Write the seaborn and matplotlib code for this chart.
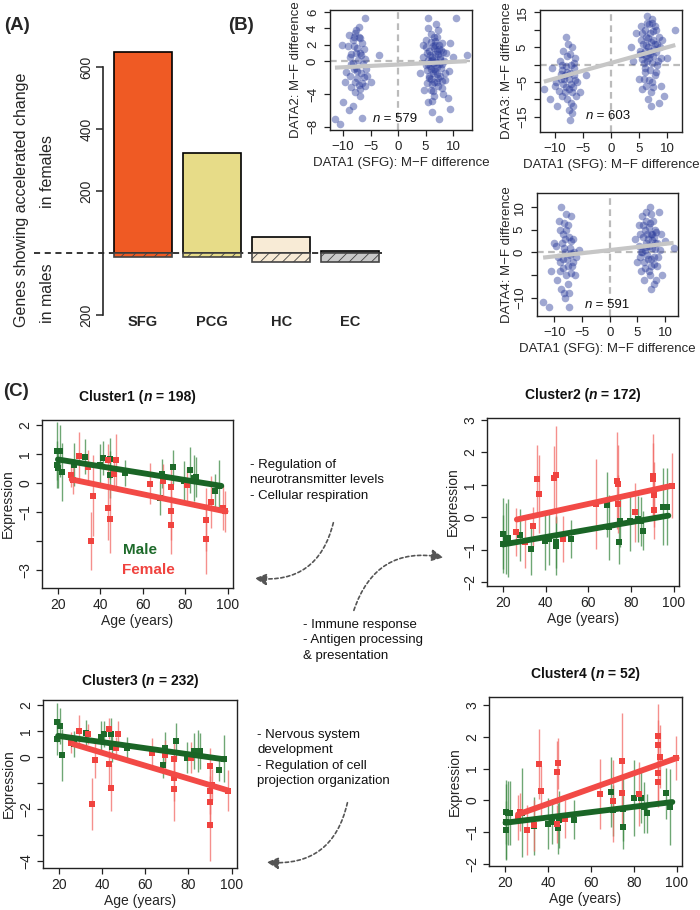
import matplotlib
matplotlib.use("Agg")
import matplotlib.pyplot as plt
import numpy as np
import seaborn as sns
from matplotlib.offsetbox import TextArea, HPacker, AnnotationBbox
from matplotlib.patches import FancyArrowPatch

# ---- panel A: genes with accelerated change ----
regions = ["SFG", "PCG", "HC", "EC"]
female_genes = [648, 322, 52, 5]
male_genes = [13, 12, 29, 30]
region_colors = ["#EF5A24", "#E7DC88", "#F8EBD6", "#C9C9C9"]

# ---- panel B: M-F differences ----
s1_points = [(-11.5, -7), (-10.5, -7.7), (-10, -5), (-9.6, -2.5), (-9.2, 1.8), (-9, -6), (-8.8, 0.5),
             (-8.5, -3.2), (-8.3, 2.6), (-8, -1), (-7.8, 3.5), (-7.6, 1), (-7.5, -2.1), (-7.3, 0.2),
             (-7.1, 4.2), (-7, -4.2), (-6.8, -1.5), (-6.6, 2.2), (-6.4, -0.4), (-6.2, 1.5), (-6, -3),
             (-5.7, -1.8), (-6, 5.3), (-5, -2.6), (-8.2, -5.5), (-7.7, -0.8), (-7.2, 3), (-6.9, -3.4),
             (-9.4, -1.3), (-8.6, 0.9), (-3.5, 0.8), (-6.5, -6.9), (-7.4, -1.2), (-8.1, 1.9), (-6.7, 0.7),
             (-7.9, -2.6), (-7.0, 2.8), (-8.6, -0.4), (-6.3, -1.9), (-7.6, 3.8),
             (-8.8, -1.8), (-7.2, -2.9), (-6.1, 0.3), (-8.0, 2.9), (-7.4, 1.6), (-9.0, 3.2), (-6.6, -2.7),
             (-7.8, -3.8), (-8.3, -0.2), (-6.9, 1.0), (-10.2, 2.0), (-5.8, -0.9),
             (4, -1.5), (4.5, 2), (4.8, -3.5), (5, -0.5), (5.2, 1), (5.4, 4), (5.5, -5), (5.6, -2),
             (5.8, 0.8), (6, 3.3), (6, -1), (6.2, -2.8), (6.3, 1.8), (6.4, -0.2), (5.5, 5.3), (6.6, -4.2),
             (6.7, 2.5), (6.8, 0), (7, -1.6), (7, 1.2), (7.2, 3.8), (7.3, -3), (7.5, -7), (7.6, 0.5),
             (7.8, -0.8), (8, 2.2), (8.2, -4), (8.5, -2.3), (8.8, 1), (9, -4.5), (9.3, -1.2), (10, 0.5),
             (10.5, 5.3), (12.5, 0.8), (5.9, -3.5), (6.9, 4.5), (7.4, -0.4), (6.1, 0.2), (5.3, -1.1),
             (7.9, -2.4), (6.2, 0.5), (6.8, -1.2), (7.2, 0.9), (5.8, -0.6), (6.5, 1.6), (7.6, -1.8),
             (6.0, 2.4), (7.0, -2.6), (6.4, -3.6), (5.5, 0.2), (7.8, 1.4), (6.6, 3), (6.9, -0.1),
             (5.6, -1.8), (8.3, 0), (6.1, -6.2), (9.5, -5.8),
             (5.1, 2.6), (5.7, 1.3), (6.3, -1.4), (6.7, 0.9), (7.1, -0.7), (7.5, 2.0), (5.9, -2.2),
             (6.5, -0.9), (7.3, -2.0), (8.1, 1.1), (6.0, 0.0), (5.4, -0.3), (7.7, 0.3), (6.8, 2.0),
             (5.2, -2.7), (8.6, -1.5), (7.0, 3.0), (6.2, -4.8), (7.9, -3.3), (5.0, 1.7), (6.6, -2.5),
             (7.4, 1.5), (8.0, -0.3), (4.6, 0.5), (9.5, 2.2)]
s2_points = [(-12, -7), (-11, -10), (-10.5, -1), (-10, -6), (-9.6, -12), (-9.2, 1), (-9, -4), (-8.8, -9),
             (-8.5, 4), (-8.3, -3), (-8, 8), (-7.8, -2), (-7.6, -7), (-7.4, -16), (-7.2, 0), (-7, 5),
             (-6.8, -12), (-6.6, -3), (-6.4, 2), (-6.2, -9), (-6, -5), (-5.5, -8), (-4.5, -3), (-8.1, -0.5),
             (-7.5, -13), (-7.1, -5.5), (-8.7, -1.5), (-6.9, -14), (-7.7, 6), (-8.4, -4), (-7.3, -2.5),
             (-8.0, -6.5), (-6.7, 0.5), (-7.9, 2.5), (-7.0, -8), (-8.9, -2.8), (-6.5, -4.5), (-9.9, -5),
             (-8.2, -8), (-7.6, -4), (-6.8, -6.5), (-7.9, -10), (-8.6, -5.5), (-7.2, -11), (-6.6, -1),
             (-9.3, -7.5), (-7.4, 3), (-8.8, 0),
             (3.5, 5), (4, 1), (4.5, 9), (5, -4), (5.2, 3), (5.4, 11), (5.6, -7), (5.8, 6), (6, -1),
             (6.2, 8), (6.4, 12), (6.6, -10), (6.8, 2), (7, 4), (7.2, -12), (7.4, 13), (7.6, 7), (7.8, -3),
             (8, 10), (8.2, 0), (8.5, -11), (8.8, 5), (9, -6), (9.5, -9), (10, 2), (11.5, 10), (6.1, -2),
             (6.9, 9), (7.3, -5), (7.9, 6), (5.7, 3), (8.4, 1), (6.5, 14), (7.1, -8), (7.7, 4.5), (6.3, 5.5),
             (7.5, 2.5), (6.7, 7.5), (8.1, 3.5), (5.9, 0.5), (7.2, 6.5), (6.0, 4), (8.6, 8), (5.5, 1.5),
             (6.8, -4.5), (7.4, 0.5),
             (5.3, 7), (6.1, 10), (6.9, 3), (7.5, 9.5), (5.9, -4), (6.4, 1), (7.8, 11), (8.2, 6),
             (7.0, -1.5), (6.6, 5), (5.6, 9), (8.9, 2), (7.3, 12), (6.2, -6), (8.0, -2), (5.1, 4),
             (7.6, -6.5), (6.8, 11.5), (9.2, 7), (6.3, 2.5)]
s3_points = [(-12, -11), (-11, -12), (-10.5, -4), (-10, 2), (-9.5, -6), (-9.2, 7), (-9, -2), (-8.8, 10),
             (-8.5, 4), (-8.3, -9), (-8, 0), (-7.8, 5), (-7.6, -7), (-7.4, -12), (-7.2, 1), (-7, 8),
             (-6.8, -3), (-6.6, 3), (-6.3, -5), (-6, -1), (-5.5, 0.5), (-8.1, -10), (-7.5, 6), (-8.7, -8),
             (-7.1, -0.5), (-9.7, 1.5), (-6.9, 2.5), (-8.4, -3.5), (-7.7, -1.5), (-8.2, 1), (-7.3, 3.5),
             (-6.7, -2), (-7.9, -5), (-8.6, 2), (-7.0, -0.2), (-9.3, -1),
             (-8.9, 5), (-7.6, -3), (-8.2, 6.5), (-7.0, -4.5), (-8.5, -1.5), (-7.4, -9), (-9.0, -4),
             (-6.5, 0), (-8.0, 3), (-7.8, 8.5),
             (4.5, 3), (5, -2), (5.3, 6), (5.6, 0), (5.9, 8), (6.2, -6), (6.5, 2), (6.8, 4), (7, -4),
             (7.2, 10), (7.4, -8), (7.6, 1), (7.8, 7), (8, -1), (8.2, 5), (8.5, -3), (8.8, 9), (9, 0.5),
             (9.5, -5), (10, 2.5), (11.5, 1), (6, 3.5), (6.7, -0.5), (7.3, 6.5), (7.9, -2.5), (8.3, 4.5),
             (6.4, -3.5), (7.1, 1.5), (5.8, 0), (8.6, 2), (6.9, 3), (7.5, -1.5), (6.3, 5), (7.7, 2.8),
             (8.1, 0.8), (6.6, 1.2), (7.4, 4), (5.5, -1),
             (5.5, 4), (6.1, -2), (6.6, 7), (7.2, -5), (7.7, 4), (8.4, -6), (6.9, -1.5), (7.5, 8.5),
             (6.3, 0.5), (8.0, 3.5), (5.7, -4), (7.0, 5.5), (8.7, -1), (6.5, 9), (7.9, -7), (6.0, 6),
             (7.4, -3), (8.2, 2), (5.2, 1.5), (9.2, 4)]
s1_fit = (0.033, -0.41)   # slope, intercept
s2_fit = (0.446, 0.45)
s3_fit = (0.138, 0.52)

# ---- panel C: cluster expression by age (age, mean, half error) ----
c1_male = [(19.7, 1.09, 1.0), (20.9, 1.1, 0.9), (19.7, 0.63, 0.8), (20, 0.52, 0.7), (21.7, 0.38, 1.0),
           (27.7, 0.63, 0.75), (32.7, 0.9, 0.6), (39.8, 0.63, 0.7), (41.3, 0.86, 0.6), (44.5, 0.84, 0.7),
           (44.5, 0.29, 0.8), (51.5, 0.34, 0.45), (68, -0.52, 0.6), (69.2, 0.31, 0.5), (74.3, 0.55, 0.6),
           (79.3, 0.06, 0.7), (82.1, 0.44, 0.8), (84, 0.17, 0.8), (85, 0.2, 0.7), (93.9, -0.29, 0.6),
           (96, -0.11, 0.9)]
c1_female = [(26, 0.26, 0.4), (27.2, 0.11, 0.5), (29.9, 0.92, 0.85), (34, 0.54, 0.6), (35.4, -2.0, 1.0),
             (36.7, -0.44, 1.4), (43.5, -0.86, 1.1), (43.7, 0.78, 0.55), (44.5, -1.23, 1.2),
             (46.4, 0.31, 0.5), (47.6, 0.78, 0.9), (63.3, -0.02, 0.7), (69.6, 0.06, 0.6),
             (73.2, -0.14, 0.8), (73.2, -0.95, 1.0), (73.2, -1.46, 1.0), (81, -0.06, 0.6),
             (90, -1.26, 1.1), (90, -1.93, 1.2), (92.3, -0.65, 0.9), (97.8, -0.86, 0.75), (98.6, -0.98, 0.7)]
c2_male = [(20, -0.51, 1.1), (20, -0.82, 0.9), (21.3, -0.65, 1.1), (22.2, -0.65, 1.2), (28, -0.56, 0.8),
           (33.1, -0.97, 0.8), (39.9, -0.72, 0.9), (41.5, -0.67, 0.8), (45, -0.89, 0.9), (45, -0.77, 0.8),
           (51.7, -0.67, 0.6), (68.8, 0.39, 1.0), (69.9, -0.31, 1.0), (74.6, -0.75, 0.7),
           (74.9, -0.13, 0.8), (79.6, -0.13, 0.9), (83.3, -0.05, 0.7), (84.5, -0.13, 0.75),
           (85.6, -0.41, 0.6), (94.8, 0.33, 1.2), (96.7, 0.33, 1.2)]
c2_female = [(26.2, -0.46, 0.75), (30.1, -0.75, 0.8), (34, -0.28, 0.6), (35.9, 1.18, 1.05), (37, 0.72, 1.2),
             (43.8, 1.2, 1.0), (44.9, 1.31, 1.5), (48.1, -0.67, 0.7), (63.5, 0.41, 1.4), (73.5, 1.13, 1.5),
             (73.8, 1.02, 1.2), (73.8, 0.41, 0.9), (81.7, 0.15, 0.9), (90.4, 1.28, 1.3), (90.4, 1.18, 1.1),
             (90.7, 0.7, 1.0), (90.7, 0.23, 0.9), (99, 0.97, 1.0)]
c3_male = [(19.2, 1.33, 0.75), (20.3, 1.2, 0.7), (19.2, 0.68, 0.6), (21.1, 0.06, 1.0), (27.1, 0.49, 0.5),
           (32.5, 0.91, 0.5), (39.4, 0.77, 0.6), (40.9, 0.87, 0.5), (44.1, 0.9, 0.6), (44.6, 0.39, 0.6),
           (51.6, 0.36, 0.4), (68.4, -0.31, 0.5), (69.2, 0.36, 0.6), (74.3, 0.62, 0.7), (79.4, -0.03, 0.6),
           (82.7, 0.23, 0.7), (84.3, 0.23, 0.8), (85.4, 0.23, 0.7), (94.1, -0.51, 0.4), (96.5, -0.06, 0.9)]
c3_female = [(25.4, 0.55, 0.4), (29.4, 1.0, 0.6), (33.5, 0.88, 0.4), (35.4, -1.8, 1.0), (36.5, -0.12, 0.7),
             (43, 1.09, 0.4), (43.3, -0.28, 0.8), (44.1, -1.18, 0.9), (46.2, 0.36, 0.4), (47.3, 0.87, 0.5),
             (63.2, 0.14, 0.6), (69.2, 0.06, 0.6), (73.2, -0.06, 0.8), (73.2, -0.8, 0.9), (73.2, -1.25, 1.2),
             (81.1, -0.03, 0.6), (90.1, -0.35, 0.7), (90.1, -1.29, 0.9), (90.1, -1.72, 1.0),
             (90.1, -2.6, 1.4), (91, -1.06, 0.6), (98.4, -1.29, 0.8)]
c4_male = [(20.2, -0.36, 1.0), (20.2, -0.67, 1.2), (20.2, -0.93, 0.9), (21.3, -0.39, 1.0), (22.1, -0.39, 1.0),
           (28, -0.38, 1.4), (33.3, -0.8, 0.9), (40.1, -0.73, 0.8), (42, -0.67, 0.7), (44.9, -0.88, 0.8),
           (45.2, -0.6, 0.9), (52.1, -0.6, 0.6), (69.2, 0.26, 1.1), (70.3, -0.31, 0.8), (75.1, -0.83, 0.7),
           (75.1, -0.26, 1.0), (80, 0.08, 1.2), (83.2, 0.08, 0.8), (84.7, -0.21, 0.8), (86.3, -0.41, 0.6),
           (95.2, 0.23, 0.8), (97, -0.2, 1.2)]
c4_female = [(26.1, -0.54, 0.7), (26.9, -0.36, 0.6), (30.1, -0.93, 0.8), (33.3, -0.78, 0.8), (36, 1.14, 1.1),
             (36.9, 0.29, 0.8), (44.1, 0.88, 1.0), (44.9, 1.17, 0.8), (44.4, -0.75, 0.6), (48, -0.58, 0.6),
             (64.4, 0.19, 1.1), (70.3, -0.02, 1.3), (74.3, 1.24, 1.5), (74.3, 0.24, 1.0), (82.4, 0.21, 1.0),
             (91.2, 2.02, 1.0), (91.2, 1.73, 0.8), (91.2, 0.86, 0.9), (91.2, 0.59, 0.8), (92.3, 1.38, 1.0),
             (99.5, 1.33, 0.7)]
# fitted trend: (age start, age end, value start, value end)
c1_fit = {"male": (20, 97, 0.81, -0.1), "female": (26.5, 99, 0.12, -0.98)}
c2_fit = {"male": (20, 97.5, -0.84, 0.05), "female": (26.5, 99, -0.07, 0.97)}
c3_fit = {"male": (19.5, 96.5, 0.81, -0.09), "female": (26.7, 98.4, 0.49, -1.29)}
c4_fit = {"male": (20.2, 98, -0.7, -0.05), "female": (26, 100, -0.44, 1.33)}

cluster_titles = ["Cluster1", "Cluster2", "Cluster3", "Cluster4"]
cluster_n = [198, 172, 232, 52]

sns.set_style("ticks")
plt.rcParams["font.family"] = ["Liberation Sans", "DejaVu Sans"]
plt.rcParams["hatch.linewidth"] = 0.6

W, H = 700, 910
fig = plt.figure(figsize=(7, 9.1), dpi=100)


def px(l, t, r, b):
    return [l / W, 1 - b / H, (r - l) / W, (b - t) / H]


def r_style(ax, fs=9, pad=2):
    for s in ax.spines.values():
        s.set_visible(True)
        s.set_linewidth(1.0)
        s.set_color("#222222")
    ax.tick_params(direction="out", length=4, width=0.9, labelsize=fs, pad=pad, colors="#222222")
    plt.setp(ax.get_yticklabels(), rotation=90, va="center")


def mixed(artist_parent, parts, xy, xycoords, fs):
    kids = [TextArea(s, textprops=dict(fontsize=fs, fontweight=w, fontstyle=st, color="#111111"))
            for s, w, st in parts]
    box = HPacker(children=kids, align="baseline", pad=0, sep=0)
    ab = AnnotationBbox(box, xy, xycoords=xycoords, frameon=False, box_alignment=(0.5, 0.5), pad=0)
    artist_parent.add_artist(ab)


# ---------- (A) ----------
axA = fig.add_axes(px(103, 40, 385, 335))
sns.barplot(x=regions, y=female_genes, hue=regions, palette=region_colors, legend=False, saturation=1,
            width=0.84, edgecolor="black", linewidth=1.2, ax=axA)
n0 = len(axA.patches)
sns.barplot(x=regions, y=[-m for m in male_genes], hue=regions, palette=region_colors, legend=False,
            saturation=1, width=0.84, edgecolor="#444444", linewidth=1.2, ax=axA)
for p in axA.patches[n0:]:
    p.set_hatch("///")
axA.plot([-1.57, 3.45], [0, 0], ls=(0, (4, 3)), color="black", lw=1.1, clip_on=False, zorder=0.5)
axA.set_xlim(-0.574, 3.5)
axA.set_ylim(-264.5, 687)
for s in ["top", "right", "bottom"]:
    axA.spines[s].set_visible(False)
axA.spines["left"].set_bounds(-200, 600)
axA.spines["left"].set_linewidth(1.2)
axA.set_yticks([-200, 200, 400, 600], labels=["200", "200", "400", "600"])
axA.tick_params(axis="y", direction="out", length=5, width=1.1, labelsize=10, pad=2)
plt.setp(axA.get_yticklabels(), rotation=90, va="center")
axA.set_xticks([])
axA.set_xlabel("")
axA.set_ylabel("")
for i, r in enumerate(regions):
    axA.text(i, -222, r, ha="center", va="center", fontsize=10.5, fontweight="bold", clip_on=False)
fig.text(22 / W, 1 - 200 / H, "Genes showing accelerated change", rotation=90, ha="center", va="center",
         fontsize=11.5)
fig.text(47 / W, 1 - 172 / H, "in females", rotation=90, ha="center", va="center", fontsize=11.5)
fig.text(47 / W, 1 - 293 / H, "in males", rotation=90, ha="center", va="center", fontsize=11.5)

# ---------- (B) ----------
blue = "#2B3C9B"
scatter_specs = [
    (s1_points, s1_fit, px(330, 10, 472, 130), (-12.4, 13.45), (-8.4, 6.25),
     [6, 4, 2, 0, -4, -8], ["6", "4", "2", "0", "\u22124", "\u22128"], "DATA2: M\u2212F difference",
     579, (-0.5, -7.05), -0.197),
    (s2_points, s2_fit, px(540, 10, 682, 132), (-12.7, 12.7), (-19.3, 15.6),
     [15, 10, 5, 0, -5, -10, -15], ["15", "", "5", "", "\u22125", "", "\u221215"],
     "DATA3: M\u2212F difference", 603, (-0.5, -14.7), -0.19),
    (s3_points, s3_fit, px(537, 193, 678, 316), (-13.1, 12.3), (-14, 13.1),
     [10, 5, 0, -5, -10], ["10", "5", "0", "", "\u221210"], "DATA4: M\u2212F difference",
     591, (-0.5, -11.6), -0.17),
]
for pts, fit, pos, xl, yl, yt, ytl, ylab, n, npos, lx_coord in scatter_specs:
    ax = fig.add_axes(pos)
    xs = [p[0] for p in pts]
    ys = [p[1] for p in pts]
    sns.scatterplot(x=xs, y=ys, ax=ax, color=blue, alpha=0.45, s=30, linewidth=0, zorder=2)
    ax.axvline(0, color="#BBBBBB", ls=(0, (3, 2)), lw=1.6, zorder=1)
    ax.axhline(0, color="#BBBBBB", ls=(0, (3, 2)), lw=1.6, zorder=1)
    lx = np.array([min(xs), max(xs)])
    ax.plot(lx, fit[0] * lx + fit[1], color="#C6C6C6", lw=3, zorder=3, solid_capstyle="butt")
    ax.set_xlim(*xl)
    ax.set_ylim(*yl)
    ax.set_xticks([-10, -5, 0, 5, 10], labels=["\u221210", "\u22125", "0", "5", "10"])
    ax.set_yticks(yt, labels=ytl)
    r_style(ax, 9.5, pad=4)
    ax.set_xlabel("DATA1 (SFG): M\u2212F difference", fontsize=9.5, labelpad=3)
    ax.set_ylabel(ylab, fontsize=9.5)
    ax.yaxis.set_label_coords(lx_coord, 0.5)
    mixed(ax, [("n", "normal", "italic"), (" = %d" % n, "normal", "normal")], npos, "data", 9.5)

# ---------- (C) ----------
male_c, female_c = "#1D6A2A", "#F0433F"
male_e, female_e = "#3E8A45", "#F26B67"
cluster_specs = [
    (c1_male, c1_female, c1_fit, px(42, 420, 233, 588), (-3.62, 2.17),
     [2, 1, 0, -1, -2, -3], ["2", "1", "0", "\u22121", "", "\u22123"], 397),
    (c2_male, c2_female, c2_fit, px(487, 418, 679, 586), (-2.12, 3.06),
     [3, 2, 1, 0, -1, -2], ["3", "2", "1", "0", "\u22121", "\u22122"], 395),
    (c3_male, c3_female, c3_fit, px(43, 700, 237, 868), (-4.27, 2.19),
     [2, 1, 0, -1, -2, -3, -4], ["2", "1", "0", "", "\u22122", "", "\u22124"], 681),
    (c4_male, c4_female, c4_fit, px(489, 697, 682, 866), (-2.06, 3.25),
     [3, 2, 1, 0, -1, -2], ["3", "2", "1", "0", "\u22121", "\u22122"], 674),
]
for k, (m, f, fit, pos, yl, yt, ytl, ty) in enumerate(cluster_specs):
    ax = fig.add_axes(pos)
    for data, ec, mc in [(m, male_e, male_c), (f, female_e, female_c)]:
        a = np.array([d[0] for d in data])
        v = np.array([d[1] for d in data])
        e = np.array([d[2] for d in data])
        ax.vlines(a, v - e, v + e, color=ec, lw=1.0, alpha=0.75, zorder=1)
        sns.scatterplot(x=a, y=v, ax=ax, marker="s", color=mc, s=18, linewidth=0, zorder=2)
    for sex, col in [("female", "#F24A46"), ("male", "#1A6526")]:
        a0, a1, v0, v1 = fit[sex]
        ax.plot([a0, a1], [v0, v1], color=col, lw=4.2, solid_capstyle="round", zorder=3)
    ax.set_xlim(12.5, 102.5)
    ax.set_ylim(*yl)
    ax.set_xticks([20, 40, 60, 80, 100])
    ax.set_yticks(yt, labels=ytl)
    r_style(ax, 10, pad=3)
    ax.set_xlabel("Age (years)", fontsize=10, labelpad=2)
    ax.set_ylabel("Expression", fontsize=10)
    ax.yaxis.set_label_coords(-0.14, 0.5)
    p = pos
    cx = (p[0] + p[2] / 2) * W
    mixed(fig, [(cluster_titles[k] + " (", "bold", "normal"), ("n", "bold", "italic"),
                (" = %d)" % cluster_n[k], "bold", "normal")], (cx, H - ty), "figure pixels", 10)
    if k == 0:
        ax.text(58.6, -2.32, "Male", color=male_c, fontsize=11, fontweight="bold", ha="center", va="center")
        ax.text(62.5, -2.99, "Female", color=female_c, fontsize=11, fontweight="bold", ha="center",
                va="center")

# annotations
notes = [(250, 467, "- Regulation of\nneurotransmitter levels\n- Cellular respiration"),
         (303, 627, "- Immune response\n- Antigen processing\n& presentation"),
         (257, 737, "- Nervous system\ndevelopment\n- Regulation of cell\nprojection organization")]
for x, y, t in notes:
    fig.text(x / W, 1 - (y - 8) / H, t, ha="left", va="top", fontsize=9.5, linespacing=1.38, color="#111111")

arrows = [((334, 520), (252, 578), -0.45), ((353, 613), (446, 558), -0.45), ((348, 800), (264, 862), -0.45)]
for (x0, y0), (x1, y1), rad in arrows:
    arr = FancyArrowPatch((x0 / W, 1 - y0 / H), (x1 / W, 1 - y1 / H), transform=fig.transFigure,
                          connectionstyle="arc3,rad=%s" % rad, arrowstyle="-|>,head_length=0.7,head_width=0.35",
                          mutation_scale=10, color="#555555", lw=1.2, linestyle=(0, (2, 1.6)))
    fig.add_artist(arr)

for t, x, y in [("(A)", 4, 25), ("(B)", 228, 25), ("(C)", 3, 392)]:
    fig.text(x / W, 1 - y / H, t, fontsize=13.5, fontweight="bold", ha="left", va="center")

fig.savefig("out.png", dpi=100)
